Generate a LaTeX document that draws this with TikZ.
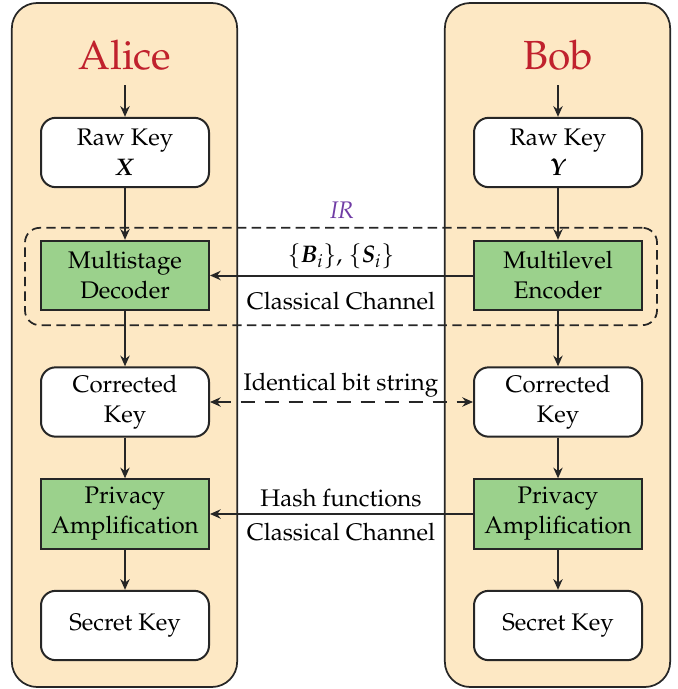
\documentclass[tikz,border=0pt]{standalone}
\usepackage[T1]{fontenc}
\usepackage{mathpazo}
\usepackage{bm}
\usetikzlibrary{arrows.meta}
\definecolor{panelfill}{RGB}{253,232,196}
\definecolor{stagegreen}{RGB}{155,209,140}
\definecolor{titlered}{RGB}{192,33,45}
\definecolor{irpurple}{RGB}{112,60,165}
\tikzset{
  panel/.style={draw=black!85, line width=1.3pt, fill=panelfill, rounded corners=19pt,
    minimum width=169pt, minimum height=513pt, inner sep=0pt},
  keybox/.style={draw=black!85, line width=1.5pt, fill=white, rounded corners=11pt,
    minimum width=126pt, minimum height=52pt, align=center, font=\fontsize{18}{22.5}\selectfont,
    inner sep=0pt},
  stagebox/.style={draw=black!85, line width=1.5pt, fill=stagegreen,
    minimum width=126pt, minimum height=52pt, align=center, font=\fontsize{18}{22.5}\selectfont,
    inner sep=0pt},
  who/.style={text=titlered, font=\fontsize{30.5}{34}\selectfont},
  lbl/.style={font=\fontsize{18}{22}\selectfont, inner sep=0pt},
  flow/.style={line width=1.5pt, draw=black!85, -{Stealth[length=8pt,width=7pt]}},
  both/.style={line width=1.5pt, draw=black!85, {Stealth[length=8pt,width=7pt]}-{Stealth[length=8pt,width=7pt]}},
}
\begin{document}
\begin{tikzpicture}[x=0.75pt,y=-0.75pt]
\useasboundingbox (0,0) rectangle (678,689);

% party panels
\node[panel] (pa) at (124.5,345) {};
\node[panel] (pb) at (557.5,345) {};

% information reconciliation frame
\node[draw=black!85, line width=1.3pt, dash pattern=on 7pt off 4pt, rounded corners=11pt,
  minimum width=474pt, minimum height=73pt] (ir) at (341,276.5) {};
\node[text=irpurple, font=\fontsize{18}{20}\selectfont\itshape] (irl) at (342,210) {IR};

% titles
\node[who] (alice) at (125,55) {Alice};
\node[who] (bob) at (558,55) {Bob};
\coordinate (ain) at (125,85);
\coordinate (bin) at (558,85);

% Alice column
\node[keybox] (araw) at (125,152.5) {Raw Key\\\textbf{\textit{X}}};
\node[stagebox] (adec) at (125,275.5) {Multistage\\Decoder};
\node[keybox] (acor) at (125,402) {Corrected\\Key};
\node[stagebox] (apa) at (125,514) {Privacy\\Amplification};
\node[keybox] (asec) at (125,625.5) {Secret Key};

% Bob column
\node[keybox] (braw) at (558,152.5) {Raw Key\\\textbf{\textit{Y}}};
\node[stagebox] (benc) at (558,275.5) {Multilevel\\Encoder};
\node[keybox] (bcor) at (558,402) {Corrected\\Key};
\node[stagebox] (bpa) at (558,514) {Privacy\\Amplification};
\node[keybox] (bsec) at (558,625.5) {Secret Key};

% vertical flows
\draw[flow] (ain) -- (araw);
\draw[flow] (araw) -- (adec);
\draw[flow] (adec) -- (acor);
\draw[flow] (acor) -- (apa);
\draw[flow] (apa) -- (asec);
\draw[flow] (bin) -- (braw);
\draw[flow] (braw) -- (benc);
\draw[flow] (benc) -- (bcor);
\draw[flow] (bcor) -- (bpa);
\draw[flow] (bpa) -- (bsec);

% exchanges between the parties
\draw[flow] (benc) -- (adec);
\node[lbl] (l1) at (341,256) {$\{\bm{B}_{i}\}$, $\{\bm{S}_{i}\}$};
\node[lbl] (l2) at (341,301) {Classical Channel};

\draw[both, dash pattern=on 11pt off 7pt] (acor) -- (bcor);
\node[lbl] (l3) at (341,385) {Identical bit string};

\draw[flow] (bpa) -- (apa);
\node[lbl] (l4) at (341,498) {Hash functions};
\node[lbl] (l5) at (341,532) {Classical Channel};
\end{tikzpicture}
\end{document}
